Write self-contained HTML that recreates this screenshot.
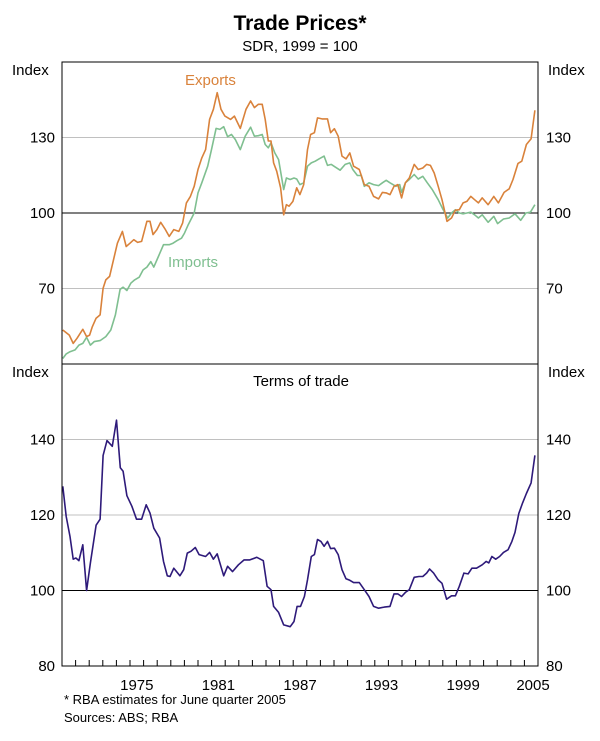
<!DOCTYPE html>
<html><head><meta charset="utf-8"><style>
body{margin:0;background:#fff;}
svg{display:block;font-family:"Liberation Sans",Arial,sans-serif;}
</style></head><body>
<svg id="c" width="600" height="741">
<text x="300" y="30" text-anchor="middle" font-size="21" font-weight="bold">Trade Prices*</text>
<text x="300" y="51" text-anchor="middle" font-size="15">SDR, 1999 = 100</text>
<text x="12" y="75" font-size="15">Index</text>
<text x="548" y="75" font-size="15">Index</text>
<text x="12" y="377" font-size="15">Index</text>
<text x="548" y="377" font-size="15">Index</text>
<text x="185" y="85" font-size="15" fill="#d9823b">Exports</text>
<text x="168" y="267" font-size="15" fill="#7fbf90">Imports</text>
<text x="301" y="386" text-anchor="middle" font-size="15">Terms of trade</text>
<text x="64" y="704" font-size="13">*   RBA estimates for June quarter 2005</text>
<text x="64" y="722" font-size="13">Sources: ABS; RBA</text>
</svg>
<script>
const topTicks=[70,100,130];
const botTicks=[80,100,120,140];
const yearLabels=[1975,1981,1987,1993,1999,2005];
const expDates=[.06,.54,.82,1.10,1.53,1.81,2.03,2.23,2.51,2.80,3.02,3.22,3.50,3.79,4.07,4.44,4.72,5.00,5.28,5.56,5.85,6.24,6.47,6.69,6.98,7.26,7.60,7.88,8.22,8.59,8.87,9.15,9.44,9.72,10.00,10.28,10.56,10.85,11.13,11.41,11.69,11.98,12.40,12.68,13.11,13.53,13.87,14.15,14.44,14.72,14.94,15.17,15.37,15.56,15.79,16.07,16.30,16.50,16.69,16.98,17.26,17.49,17.77,18.05,18.28,18.56,18.79,19.12,19.52,19.75,20.03,20.31,20.59,20.88,21.16,21.44,21.86,22.23,22.57,22.91,23.28,23.56,23.84,24.12,24.41,24.69,24.97,25.25,25.54,25.90,26.19,26.53,26.81,27.09,27.37,27.66,27.94,28.31,28.64,28.93,29.21,29.49,29.77,30.06,30.34,30.62,30.90,31.33,31.75,32.09,32.51,32.88,33.16,33.53,33.81,34.15,34.49,34.77];
const expVals=[53.5,51.5,48.2,50.2,53.8,50.9,51.5,54.8,58.2,59.5,70.1,73.4,74.8,81.4,88,92.7,86.7,88,89.4,88.3,88.7,96.7,96.7,91.4,93.4,96.3,93.4,90.7,93.4,92.7,96,104,106.6,110.6,117.3,121.9,125.2,137.2,141.2,147.8,141.2,138.5,137.2,138.5,133.6,141.2,144.5,141.9,143.2,143.2,137.2,128.6,128.6,119.9,116.6,110,99.3,103.3,102.7,104.6,110,107.3,111.3,125.2,131.2,131.9,137.8,137.4,137.4,131.9,133.5,130.5,122.6,121.5,123.9,118.6,117.3,111.3,110.6,106.6,105.6,108.2,108,107.3,110.6,111.3,106,112,113.9,119.3,117.3,117.9,119.3,118.9,115.9,110.6,105.3,96.7,98,101.1,101.3,104,104.6,106.6,105.3,104,106,103.3,106.6,104,108.2,109.6,113.3,119.7,120.6,127.2,129.5,140.8];
const impDates=[.06,.31,.59,.96,1.24,1.53,1.81,2.09,2.37,2.80,3.22,3.59,3.93,4.27,4.49,4.77,5.06,5.34,5.68,5.96,6.24,6.53,6.75,7.09,7.46,7.88,8.16,8.45,8.79,9.01,9.29,9.72,10.00,10.28,10.71,10.99,11.33,11.61,11.89,12.18,12.46,12.74,13.11,13.47,13.87,14.15,14.44,14.72,14.94,15.17,15.37,15.65,15.93,16.30,16.50,16.78,17.06,17.26,17.49,17.77,18.05,18.33,18.62,18.90,19.27,19.52,19.80,20.08,20.45,20.82,21.16,21.38,21.72,22.01,22.23,22.57,22.91,23.28,23.56,23.84,24.12,24.55,24.83,24.97,25.25,25.54,25.90,26.19,26.53,26.86,27.23,27.66,28.00,28.36,28.64,28.93,29.21,29.49,29.77,30.06,30.34,30.62,30.90,31.33,31.75,32.03,32.46,32.88,33.31,33.73,34.10,34.44,34.77];
const impVals=[42.2,44,44.9,45.6,47.5,48.2,50.6,47.5,48.9,49.3,50.9,53.5,59.5,69.7,70.5,69.2,72.1,73.4,74.5,77.4,78.5,80.7,78.5,82.7,87.4,87.4,88,89,90,92,95.4,100,108,112,118.6,125.2,133.6,133.2,134.3,130.3,131.2,129.2,125.2,130.5,134.1,130.5,130.7,131.2,127.2,125.9,127.9,123.9,121.2,109.3,113.9,113.3,113.9,113.5,111.3,112,118.6,119.9,120.6,121.5,122.6,118.9,119.3,118.3,117,119.3,119.9,117.3,114.9,114.9,110.6,112,111.3,110.9,112,113,112,110.6,111.3,108.2,112,113.3,115.3,113.5,114.6,112,109.3,105.3,101.6,98,100,101.3,100,99.7,100,100.3,99.3,98,99.3,96.3,98.7,95.8,97.6,98,99.7,97.1,100,100.3,103.3];
const totDates=[.06,.31,.59,.82,1.02,1.24,1.53,1.81,2.09,2.51,2.80,3.02,3.31,3.70,4.01,4.29,4.49,4.77,5.14,5.48,5.85,6.19,6.47,6.75,7.18,7.46,7.74,7.94,8.22,8.67,8.95,9.21,9.49,9.80,10.08,10.56,10.85,11.13,11.41,11.89,12.18,12.54,12.97,13.39,13.81,14.32,14.80,15.08,15.37,15.56,15.93,16.30,16.78,17.06,17.29,17.54,17.82,18.05,18.33,18.56,18.79,19.04,19.27,19.52,19.75,20.03,20.31,20.59,20.88,21.16,21.44,21.86,22.23,22.57,22.91,23.28,23.70,24.12,24.41,24.69,24.97,25.25,25.54,25.90,26.24,26.53,26.81,27.03,27.32,27.66,27.94,28.28,28.64,28.93,29.21,29.55,29.86,30.14,30.48,30.90,31.19,31.38,31.61,31.89,32.18,32.46,32.80,33.08,33.31,33.59,33.87,34.15,34.49,34.77];
const totVals=[127.6,119.6,114.3,108.3,108.6,107.9,112.1,100,107.3,117.3,118.9,135.8,139.7,138.2,145.1,132.5,131.6,125.1,122.3,118.9,118.9,122.7,120.5,116.5,113.9,107.7,103.9,103.7,105.9,103.9,105.5,109.9,110.4,111.4,109.5,109,110.1,108.3,109.7,103.9,106.4,105,106.8,108.1,108.1,108.8,107.9,101.1,100.2,95.8,94.2,90.9,90.4,91.8,95.8,95.8,98.4,102.8,109,109.5,113.5,113,111.7,113,111.1,111.2,109.5,105.5,103.1,102.7,102.1,102.1,100.2,98.4,95.8,95.3,95.6,95.8,99.1,99.1,98.4,99.5,100.2,103.5,103.7,103.7,104.6,105.7,104.6,102.8,101.9,97.7,98.6,98.6,101.1,104.6,104.4,105.9,105.9,106.8,107.7,107.3,109,108.3,109,110.1,110.8,113,115.4,120.4,123.2,125.7,128.5,135.8];

const svg=document.getElementById('c');const NS='http://www.w3.org/2000/svg';
const L=62,R=538,T1=62,B1=364,T2=364,B2=666;
const xs=d=>L+d*(R-L)/35;
const yTop=v=>B1-(v-40)*(B1-T1)/120;
const yBot=v=>B2-(v-80)*(B2-T2)/80;
function mk(tag,attrs){const e=document.createElementNS(NS,tag);for(const k in attrs)e.setAttribute(k,attrs[k]);svg.appendChild(e);return e;}
topTicks.forEach(v=>{
 const y=yTop(v);
 const g=mk('line',{x1:L,x2:R,y1:y,y2:y,stroke:v===100?'#000':'#c0c0c0','stroke-width':1});
 
 
 const t1=mk('text',{x:55,y:y+5,'text-anchor':'end','font-size':15});t1.textContent=v;
 
 
 const t2=mk('text',{x:546,y:y+5,'font-size':15});t2.textContent=v;
 
 
});
botTicks.forEach(v=>{
 const y=yBot(v);
 if(v!==80){const g=mk('line',{x1:L,x2:R,y1:y,y2:y,stroke:v===100?'#000':'#c0c0c0','stroke-width':1});
 
 }
 const t1=mk('text',{x:55,y:y+5,'text-anchor':'end','font-size':15});t1.textContent=v;
 
 
 const t2=mk('text',{x:546,y:y+5,'font-size':15});t2.textContent=v;
 
 
});
for(let i=1;i<35;i++){const x=xs(i);const tk=mk('line',{x1:x,x2:x,y1:B2,y2:B2-6,stroke:'#000'});
 
 }
yearLabels.forEach(yr=>{let x=xs(yr-1970+0.5);if(x>R-5)x=R-5;
 const t=mk('text',{x:x,y:690,'text-anchor':'middle','font-size':15});t.textContent=yr;
 
 });
function line(d,v,yf,col,name){const p=d.map((dd,i)=>xs(dd).toFixed(1)+','+yf(v[i]).toFixed(1)).join(' ');
 const e=mk('polyline',{points:p,fill:'none',stroke:col,'stroke-width':1.6,'stroke-linejoin':'round'});
 
 }
line(impDates,impVals,yTop,'#7fbf90','imports-line');
line(expDates,expVals,yTop,'#d9823b','exports-line');
line(totDates,totVals,yBot,'#2e1a7a','terms-of-trade-line');
const f=mk('rect',{x:L,y:T1,width:R-L,height:B2-T1,fill:'none',stroke:'#000','stroke-width':1});


const s=mk('line',{x1:L,x2:R,y1:B1,y2:B1,stroke:'#000'});


</script>
</body></html>
